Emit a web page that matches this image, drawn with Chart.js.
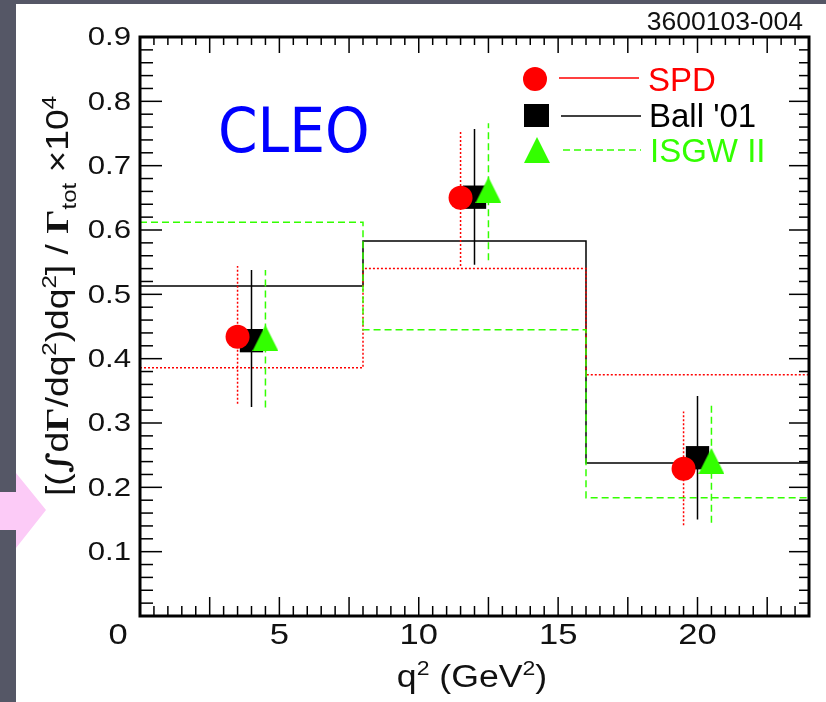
<!DOCTYPE html>
<html>
<head>
<meta charset="utf-8">
<title>CLEO q2 spectrum</title>
<script src="https://cdn.jsdelivr.net/npm/chart.js@4"></script>
<style>
  body { margin: 0; background: #555766; }
  .slide { position: relative; width: 826px; height: 702px; overflow: hidden; background: #555766; }
  .panel { position: absolute; left: 16px; top: 4px; width: 810px; height: 698px; background: #fff; }
  .arrow {
    position: absolute; left: 0; top: 473px; width: 46px; height: 75px; background: #fccbf7;
    clip-path: polygon(0 19px, 16px 19px, 16px 0, 46px 37px, 16px 75px, 16px 57px, 0 57px);
  }
  #cleoChart { position: absolute; left: 0; top: 0; }
</style>
</head>
<body>
<div class="slide">
  <div class="panel"></div>
  <div class="arrow"></div>
  <canvas id="cleoChart" width="826" height="702"></canvas>
</div>
<script>
// q2 bins (GeV^2) and model predictions per bin
const binEdges = [0, 8, 16, 24];
const spdHist = [0.386, 0.540, 0.375];
const ballHist = [0.513, 0.583, 0.238];
const isgwHist = [0.612, 0.445, 0.184];

// measured points, one set per model (shifted in q2 so they don't overlap)
const spdX = [3.5, 11.5, 19.5];
const spdY = [0.434, 0.650, 0.229];
const spdLow = [0.330, 0.544, 0.141];
const spdHigh = [0.544, 0.755, 0.318];

const ballX = [4, 12, 20];
const ballY = [0.428, 0.651, 0.246];
const ballLow = [0.325, 0.546, 0.150];
const ballHigh = [0.538, 0.757, 0.342];

const isgwX = [4.5, 12.5, 20.5];
const isgwY = [0.432, 0.662, 0.241];
const isgwLow = [0.324, 0.553, 0.145];
const isgwHigh = [0.538, 0.766, 0.328];

// tick labels
const xTickLabels = [0, 5, 10, 15, 20];
const yTickLabels = [0.1, 0.2, 0.3, 0.4, 0.5, 0.6, 0.7, 0.8, 0.9];

const RED = "#ff0000";
const GREEN = "#33ff00";
const BLACK = "#000000";
const SANS = '"Liberation Sans", Arial, sans-serif';

// helpers to turn the arrays into chart points
function histPoints(values) {
  const pts = [];
  values.forEach((v, i) => {
    pts.push({ x: binEdges[i], y: v });
    pts.push({ x: binEdges[i + 1], y: v });
  });
  return pts;
}
function errorPoints(xs, lows, highs) {
  const pts = [];
  xs.forEach((x, i) => {
    pts.push({ x: x, y: lows[i] }, { x: x, y: highs[i] }, { x: x, y: null });
  });
  return pts;
}
function markerPoints(xs, ys) {
  return xs.map((x, i) => ({ x: x, y: ys[i] }));
}
// filled triangle, centred in its box like the ROOT marker
function triangleMarker(color, size) {
  const c = document.createElement("canvas");
  c.width = size;
  c.height = size;
  const g = c.getContext("2d");
  g.fillStyle = color;
  g.beginPath();
  g.moveTo(size / 2, 0);
  g.lineTo(size, size);
  g.lineTo(0, size);
  g.closePath();
  g.fill();
  return c;
}
const greenTriangle = triangleMarker(GREEN, 26);

// text made of pieces (sup/subscripts)
function richText(ctx, parts, x, y) {
  let cx = x;
  parts.forEach((p) => {
    ctx.font = p.font;
    ctx.fillText(p.t, cx, y + (p.dy || 0));
    cx += ctx.measureText(p.t).width;
  });
}
function richWidth(ctx, parts) {
  let w = 0;
  parts.forEach((p) => {
    ctx.font = p.font;
    w += ctx.measureText(p.t).width;
  });
  return w;
}
function stretchedText(ctx, text, x, y, align, sx) {
  ctx.save();
  ctx.translate(x, y);
  ctx.scale(sx, 1);
  ctx.textAlign = align;
  ctx.fillText(text, 0, 0);
  ctx.restore();
}
function seg(ctx, x1, y1, x2, y2) {
  ctx.beginPath();
  ctx.moveTo(x1, y1);
  ctx.lineTo(x2, y2);
  ctx.stroke();
}

// ROOT style frame, inside ticks, labels, titles and legend
const rootFrame = {
  id: "rootFrame",
  afterDraw(chart) {
    const { ctx, chartArea: a, scales } = chart;
    const x = scales.x;
    const y = scales.y;
    ctx.save();

    // ticks
    ctx.strokeStyle = BLACK;
    ctx.lineWidth = 1.5;
    for (let i = 0; i <= 48; i++) {
      const px = x.getPixelForValue(i * 0.5);
      const major = i % 5 === 0;
      seg(ctx, px, a.bottom, px, a.bottom - (major ? 19 : 10));
      seg(ctx, px, a.top, px, a.top + (major ? 16 : 8));
    }
    for (let i = 0; i <= 45; i++) {
      const py = y.getPixelForValue(i * 0.02);
      const major = i % 5 === 0;
      seg(ctx, a.left, py, a.left + (major ? 22 : 13), py);
      seg(ctx, a.right, py, a.right - (major ? 20 : 10), py);
    }
    ctx.lineWidth = 3;
    ctx.strokeRect(a.left, a.top, a.right - a.left, a.bottom - a.top);

    // tick labels
    ctx.fillStyle = "#111";
    ctx.textBaseline = "middle";
    ctx.font = "26px " + SANS;
    yTickLabels.forEach((v) => {
      stretchedText(ctx, v.toFixed(1), a.left - 9, y.getPixelForValue(v) + 1, "right", 1.2);
    });
    ctx.font = "30px " + SANS;
    xTickLabels.forEach((v) => {
      const shift = v === x.min ? -22 : 0;
      stretchedText(ctx, String(v), x.getPixelForValue(v) + shift, a.bottom + 20, "center", 1.15);
    });

    // x title
    ctx.textBaseline = "alphabetic";
    ctx.textAlign = "left";
    const xTitle = [
      { t: "q", font: "31px " + SANS },
      { t: "2", font: "20px " + SANS, dy: -12 },
      { t: " (GeV", font: "31px " + SANS },
      { t: "2", font: "20px " + SANS, dy: -12 },
      { t: ")", font: "31px " + SANS },
    ];
    ctx.save();
    ctx.translate(472, 687);
    ctx.scale(1.15, 1);
    richText(ctx, xTitle, -richWidth(ctx, xTitle) / 2, 0);
    ctx.restore();

    // y title, rotated
    const base = "31px " + SANS;
    const sup = "20px " + SANS;
    const gam = 'bold 32px "Liberation Serif", serif';
    const yTitle = [
      { t: "[(", font: base },
      { t: "\u222B", font: 'bold italic 30px "DejaVu Serif", serif' },
      { t: "d", font: base },
      { t: "\u0393", font: gam },
      { t: "/dq", font: base },
      { t: "2", font: sup, dy: -12 },
      { t: ")dq", font: base },
      { t: "2", font: sup, dy: -12 },
      { t: "] / ", font: base },
      { t: "\u0393", font: gam },
      { t: "tot", font: sup, dy: 8 },
      { t: " \u00D710", font: base },
      { t: "4", font: sup, dy: -12 },
    ];
    ctx.save();
    ctx.translate(68, 296);
    ctx.rotate(-Math.PI / 2);
    ctx.scale(1.2, 1);
    richText(ctx, yTitle, -richWidth(ctx, yTitle) / 2, 0);
    ctx.restore();

    // figure id
    ctx.font = "25px " + SANS;
    stretchedText(ctx, "3600103-004", 803, 30, "right", 1.06);

    // experiment tag
    ctx.fillStyle = "#0000ff";
    ctx.font = '63px "DejaVu Sans", sans-serif';
    stretchedText(ctx, "CLEO", 218, 152, "left", 0.9);

    // legend
    ctx.lineWidth = 1.5;
    ctx.fillStyle = RED;
    ctx.beginPath();
    ctx.arc(535, 79, 12, 0, Math.PI * 2);
    ctx.fill();
    ctx.strokeStyle = RED;
    seg(ctx, 559, 78, 639, 78);
    ctx.fillStyle = BLACK;
    ctx.fillRect(524, 104, 25, 23);
    ctx.strokeStyle = BLACK;
    seg(ctx, 561, 116, 641, 116);
    ctx.drawImage(greenTriangle, 524, 137);
    ctx.strokeStyle = GREEN;
    ctx.setLineDash([7, 4]);
    seg(ctx, 563, 150, 641, 150);
    ctx.setLineDash([]);

    ctx.font = "33px " + SANS;
    ctx.textAlign = "left";
    ctx.textBaseline = "alphabetic";
    ctx.fillStyle = RED;
    ctx.fillText("SPD", 648, 91);
    ctx.fillStyle = BLACK;
    ctx.fillText("Ball '01", 649, 127);
    ctx.fillStyle = GREEN;
    ctx.fillText("ISGW II", 650, 162);

    ctx.restore();
  },
};

const lineBase = { showLine: true, pointRadius: 0, borderWidth: 1.5, fill: false, spanGaps: false };

const data = {
  datasets: [
    // markers (lower order = drawn on top)
    {
      label: "ISGW II",
      data: markerPoints(isgwX, isgwY),
      pointStyle: greenTriangle,
      pointRadius: 13,
      backgroundColor: GREEN,
      borderWidth: 0,
      order: 0,
    },
    {
      label: "SPD",
      data: markerPoints(spdX, spdY),
      pointStyle: "circle",
      pointRadius: 12,
      backgroundColor: RED,
      borderWidth: 0,
      order: 1,
    },
    {
      label: "Ball '01",
      data: markerPoints(ballX, ballY),
      pointStyle: "rect",
      pointRadius: 16.5,
      backgroundColor: BLACK,
      borderWidth: 0,
      order: 2,
    },
    // error bars
    { ...lineBase, label: "ISGW II err", data: errorPoints(isgwX, isgwLow, isgwHigh), borderColor: GREEN, borderDash: [7, 4], order: 3 },
    { ...lineBase, label: "SPD err", data: errorPoints(spdX, spdLow, spdHigh), borderColor: RED, borderDash: [2, 2], order: 4 },
    { ...lineBase, label: "Ball err", data: errorPoints(ballX, ballLow, ballHigh), borderColor: BLACK, order: 5 },
    // model histograms
    { ...lineBase, label: "ISGW II model", data: histPoints(isgwHist), borderColor: GREEN, borderDash: [7, 4], order: 6 },
    { ...lineBase, label: "SPD model", data: histPoints(spdHist), borderColor: RED, borderDash: [2, 2], order: 7 },
    { ...lineBase, label: "Ball model", data: histPoints(ballHist), borderColor: BLACK, order: 8 },
  ],
};

const config = {
  type: "scatter",
  data: data,
  options: {
    responsive: false,
    animation: false,
    events: [],
    layout: { padding: { left: 140, top: 37, right: 17, bottom: 86 } },
    plugins: {
      legend: { display: false },
      tooltip: { enabled: false },
    },
    scales: {
      x: { type: "linear", min: 0, max: 24, display: false },
      y: { type: "linear", min: 0, max: 0.9, display: false },
    },
  },
  plugins: [rootFrame],
};

new Chart(document.getElementById("cleoChart"), config);
</script>
</body>
</html>
